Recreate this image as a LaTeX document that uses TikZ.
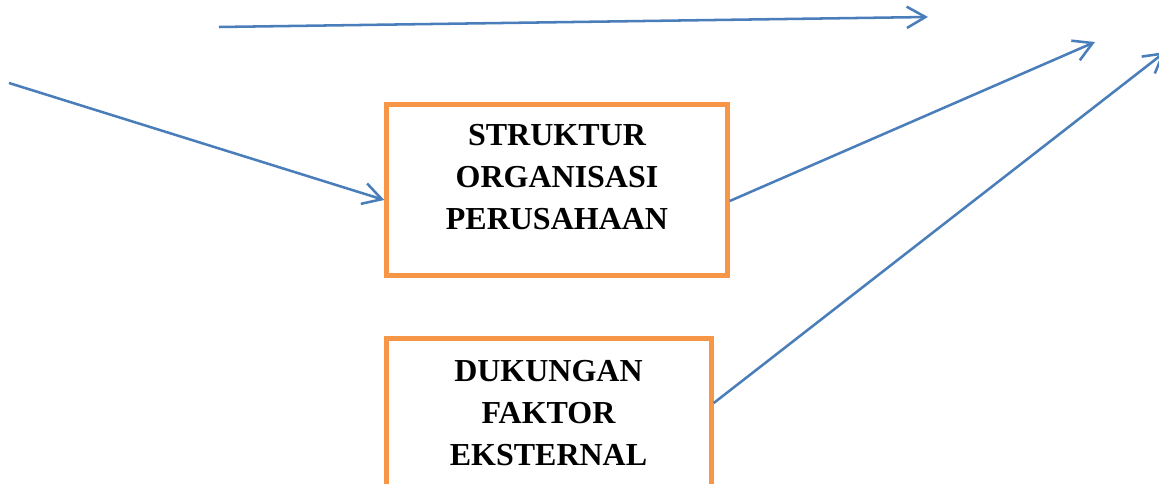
\documentclass[tikz,border=0pt]{standalone}
\usepackage{fontspec}
\setmainfont{Liberation Serif}
\usepackage{xcolor}
\usetikzlibrary{arrows.meta,positioning,calc}
\definecolor{lineblue}{RGB}{74,126,187}
\definecolor{boxorange}{RGB}{247,150,70}

\begin{document}
\begin{tikzpicture}[x=0.75pt,y=-0.75pt,
	orgbox/.style={shape=rectangle,draw=boxorange,line width=3.4pt,minimum height=128.25pt},
	boxlabel/.style={align=center,inner sep=0pt,font={\fontsize{24}{31.5}\selectfont\bfseries}},
	link/.style={draw=lineblue,line width=1.9pt,-{Straight Barb[length=14pt,width=16pt]}}]
	\useasboundingbox (0,0) rectangle (1159,484);
	\coordinate (topstart) at (219,27);
	\coordinate (topend) at (928,17);
	\coordinate (leftstart) at (9,83);
	\coordinate (rightend) at (1095,42);
	\coordinate (edgeend) at (1165,52);
	\node[orgbox,minimum width=255.75pt](struktur) at (557,190) {};
	\node[boxlabel](strukturtext) at (557,177.5) {STRUKTUR\\ORGANISASI\\PERUSAHAAN};
	\node[orgbox,minimum width=243.75pt](dukungan) at (549,424) {};
	\node[boxlabel](dukungantext) at (548.5,413) {DUKUNGAN\\FAKTOR\\EKSTERNAL};
	\draw[link](topstart) -- (topend);
	\draw[link](leftstart) -- ($(struktur.west)+(0,10)$);
	\draw[link]($(struktur.east)+(0,11)$) -- (rightend);
	\draw[link]($(dukungan.east)+(0,-21)$) -- (edgeend);
\end{tikzpicture}
\end{document}
